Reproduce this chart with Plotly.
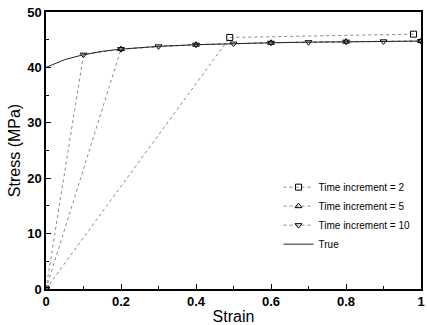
import plotly.graph_objects as go

# Data
inc2_x = [0, 0.49, 0.98]
inc2_y = [0, 45.4, 46.0]

inc5_x = [0, 0.2, 0.4, 0.6, 0.8, 1.0]
inc5_y = [0, 43.3, 44.1, 44.45, 44.65, 44.75]

inc10_x = [0, 0.1, 0.2, 0.3, 0.4, 0.5, 0.6, 0.7, 0.8, 0.9, 1.0]
inc10_y = [0, 42.3, 43.3, 43.8, 44.1, 44.3, 44.45, 44.55, 44.65, 44.7, 44.75]

true_x = [0, 0.02, 0.05, 0.1, 0.15, 0.2, 0.3, 0.4, 0.5, 0.6, 0.7, 0.8, 0.9, 1.0]
true_y = [40, 40.6, 41.4, 42.3, 42.9, 43.3, 43.8, 44.1, 44.3, 44.45, 44.55, 44.65, 44.7, 44.75]

labels = ["Time increment = 2", "Time increment = 5", "Time increment = 10", "True"]

fig = go.Figure()
fig.add_trace(go.Scatter(x=inc2_x, y=inc2_y, name=labels[0], mode="lines+markers",
                         line=dict(color="#8a8a8a", width=1, dash="dot"),
                         marker=dict(symbol="square-open", size=6, color="black", line=dict(width=1))))
fig.add_trace(go.Scatter(x=inc5_x, y=inc5_y, name=labels[1], mode="lines+markers",
                         line=dict(color="#8a8a8a", width=1, dash="dot"),
                         marker=dict(symbol="triangle-up-open", size=6, color="black", line=dict(width=1))))
fig.add_trace(go.Scatter(x=inc10_x, y=inc10_y, name=labels[2], mode="lines+markers",
                         line=dict(color="#8a8a8a", width=1, dash="dot"),
                         marker=dict(symbol="triangle-down-open", size=6, color="black", line=dict(width=1))))
fig.add_trace(go.Scatter(x=true_x, y=true_y, name=labels[3], mode="lines",
                         line=dict(color="#222222", width=1)))

axis_common = dict(showline=True, linecolor="black", linewidth=1.5, mirror=True,
                   ticks="inside", ticklen=5, tickcolor="black", tickwidth=1.2,
                   showgrid=False, zeroline=False,
                   tickfont=dict(family="Liberation Sans, Arial", size=13, color="black", weight="bold"))

fig.update_xaxes(range=[0, 1], tickvals=[0, 0.2, 0.4, 0.6, 0.8, 1],
                 ticktext=["0", "0.2", "0.4", "0.6", "0.8", "1"],
                 minor=dict(ticks="inside", ticklen=3, dtick=0.1, tickcolor="black"),
                 title=dict(text="Strain", font=dict(family="Liberation Sans, Arial", size=16, color="black"),
                            standoff=2),
                 **axis_common)
fig.update_yaxes(range=[0, 50], dtick=10,
                 minor=dict(ticks="inside", ticklen=3, dtick=5, tickcolor="black"),
                 title=dict(text="Stress (MPa)", font=dict(family="Liberation Sans, Arial", size=16, color="black"),
                            standoff=3),
                 **axis_common)

fig.update_layout(
    width=427, height=325,
    margin=dict(l=46, r=6, t=12, b=36, autoexpand=False),
    plot_bgcolor="white", paper_bgcolor="white",
    legend=dict(x=0.62, y=0.42, xanchor="left", yanchor="top",
                bgcolor="rgba(0,0,0,0)", tracegroupgap=0, itemwidth=30,
                font=dict(family="Liberation Sans, Arial", size=10, color="black")),
    showlegend=True,
)

fig.write_html("out.html")
